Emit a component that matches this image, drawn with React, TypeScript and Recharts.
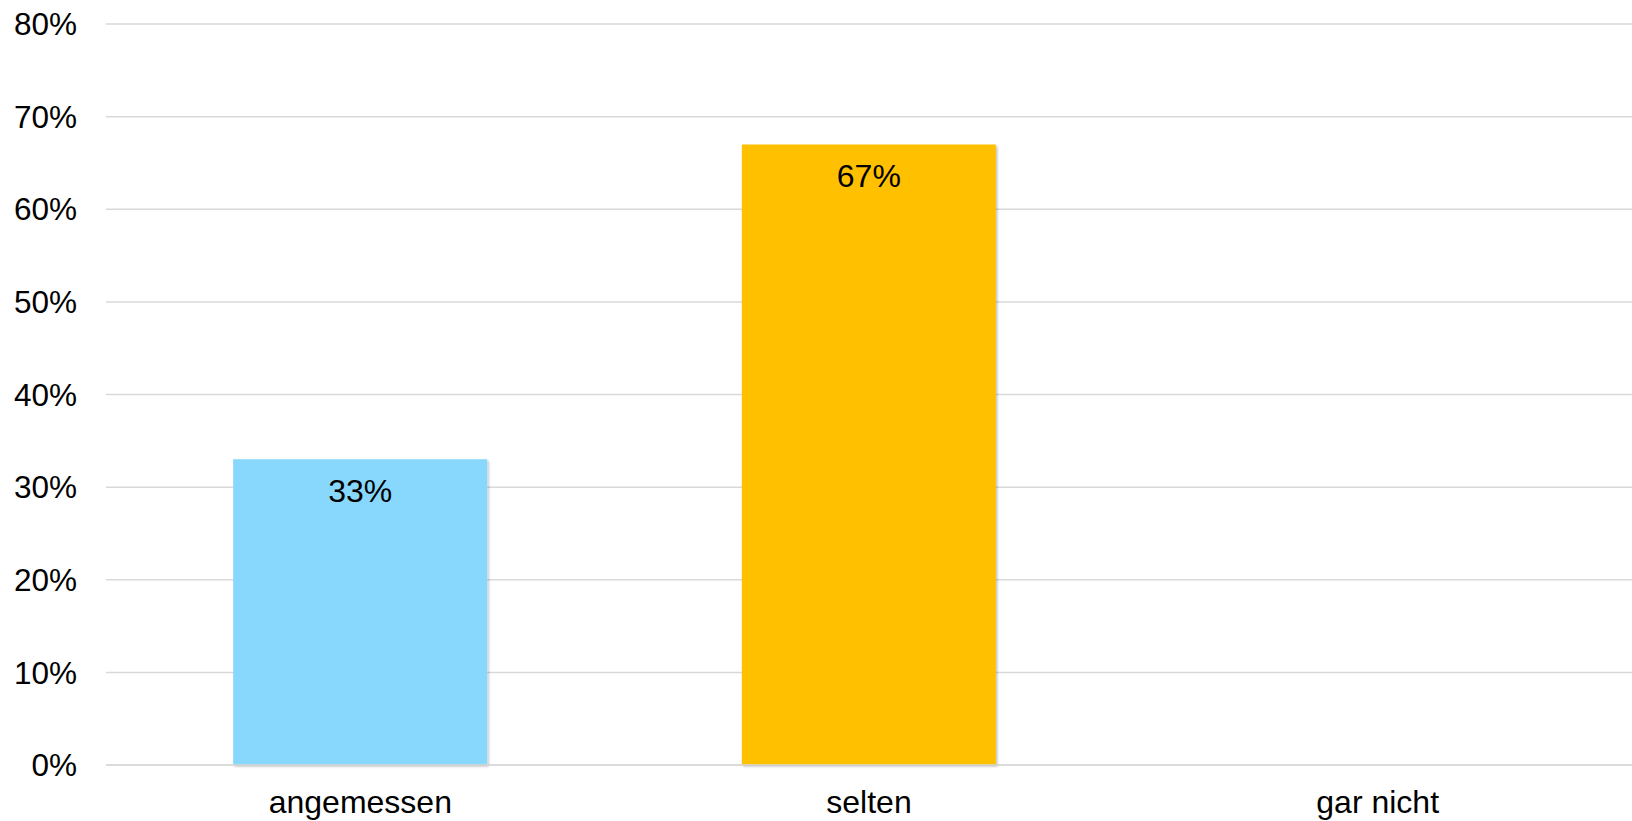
import { BarChart, Bar, XAxis, YAxis, CartesianGrid, Cell, LabelList } from "recharts";

const categories = ["angemessen", "selten", "gar nicht"];
const shares = [0.33, 0.67, 0];
const barColors = ["#88D8FE", "#FFC000", "#A5A5A5"];
const yTicks = [0, 0.1, 0.2, 0.3, 0.4, 0.5, 0.6, 0.7, 0.8];

const data = categories.map((name, i) => ({ name, value: shares[i] }));

const FONT = "'Liberation Sans', Arial, sans-serif";
const pct = (v: number) => `${Math.round(v * 100)}%`;

// label inside the bar, below its top edge; hidden for empty bars
function BarLabel(props: any) {
  const { x, y, width, value } = props;
  if (!value) return null;
  return (
    <text
      x={x + width / 2}
      y={y + 20}
      dy="0.71em"
      textAnchor="middle"
      fill="#000"
      fontSize={32}
      fontFamily={FONT}
    >
      {pct(value)}
    </text>
  );
}

export default function App() {
  return (
    <div style={{ position: "absolute", left: 0, top: 0, width: 1632, height: 821, background: "#fff" }}>
      <BarChart
        width={1632}
        height={821}
        data={data}
        margin={{ top: 24, right: 0, left: 0, bottom: 0 }}
        barCategoryGap="25%"
      >
        <defs>
          <filter id="barShadow" x="-5%" y="-5%" width="110%" height="110%">
            <feDropShadow dx="1.5" dy="1.5" stdDeviation="1.2" floodColor="#000" floodOpacity="0.25" />
          </filter>
        </defs>
        <CartesianGrid vertical={false} stroke="#d9d9d9" strokeWidth={1.5} />
        <XAxis
          dataKey="name"
          height={56}
          axisLine={{ stroke: "#d9d9d9", strokeWidth: 1.5 }}
          tickLine={false}
          tickSize={0}
          tickMargin={25}
          tick={{ fill: "#000", fontSize: 32, fontFamily: FONT }}
          interval={0}
        />
        <YAxis
          width={106}
          domain={[0, 0.8]}
          ticks={yTicks}
          tickFormatter={pct}
          axisLine={false}
          tickLine={false}
          tickSize={0}
          tickMargin={29}
          tick={{ fill: "#000", fontSize: 31.5, fontFamily: FONT }}
        />
        <Bar dataKey="value" isAnimationActive={false} style={{ filter: "url(#barShadow)" }}>
          {data.map((d, i) => (
            <Cell key={d.name} fill={barColors[i]} />
          ))}
          <LabelList dataKey="value" content={BarLabel} />
        </Bar>
      </BarChart>
    </div>
  );
}
